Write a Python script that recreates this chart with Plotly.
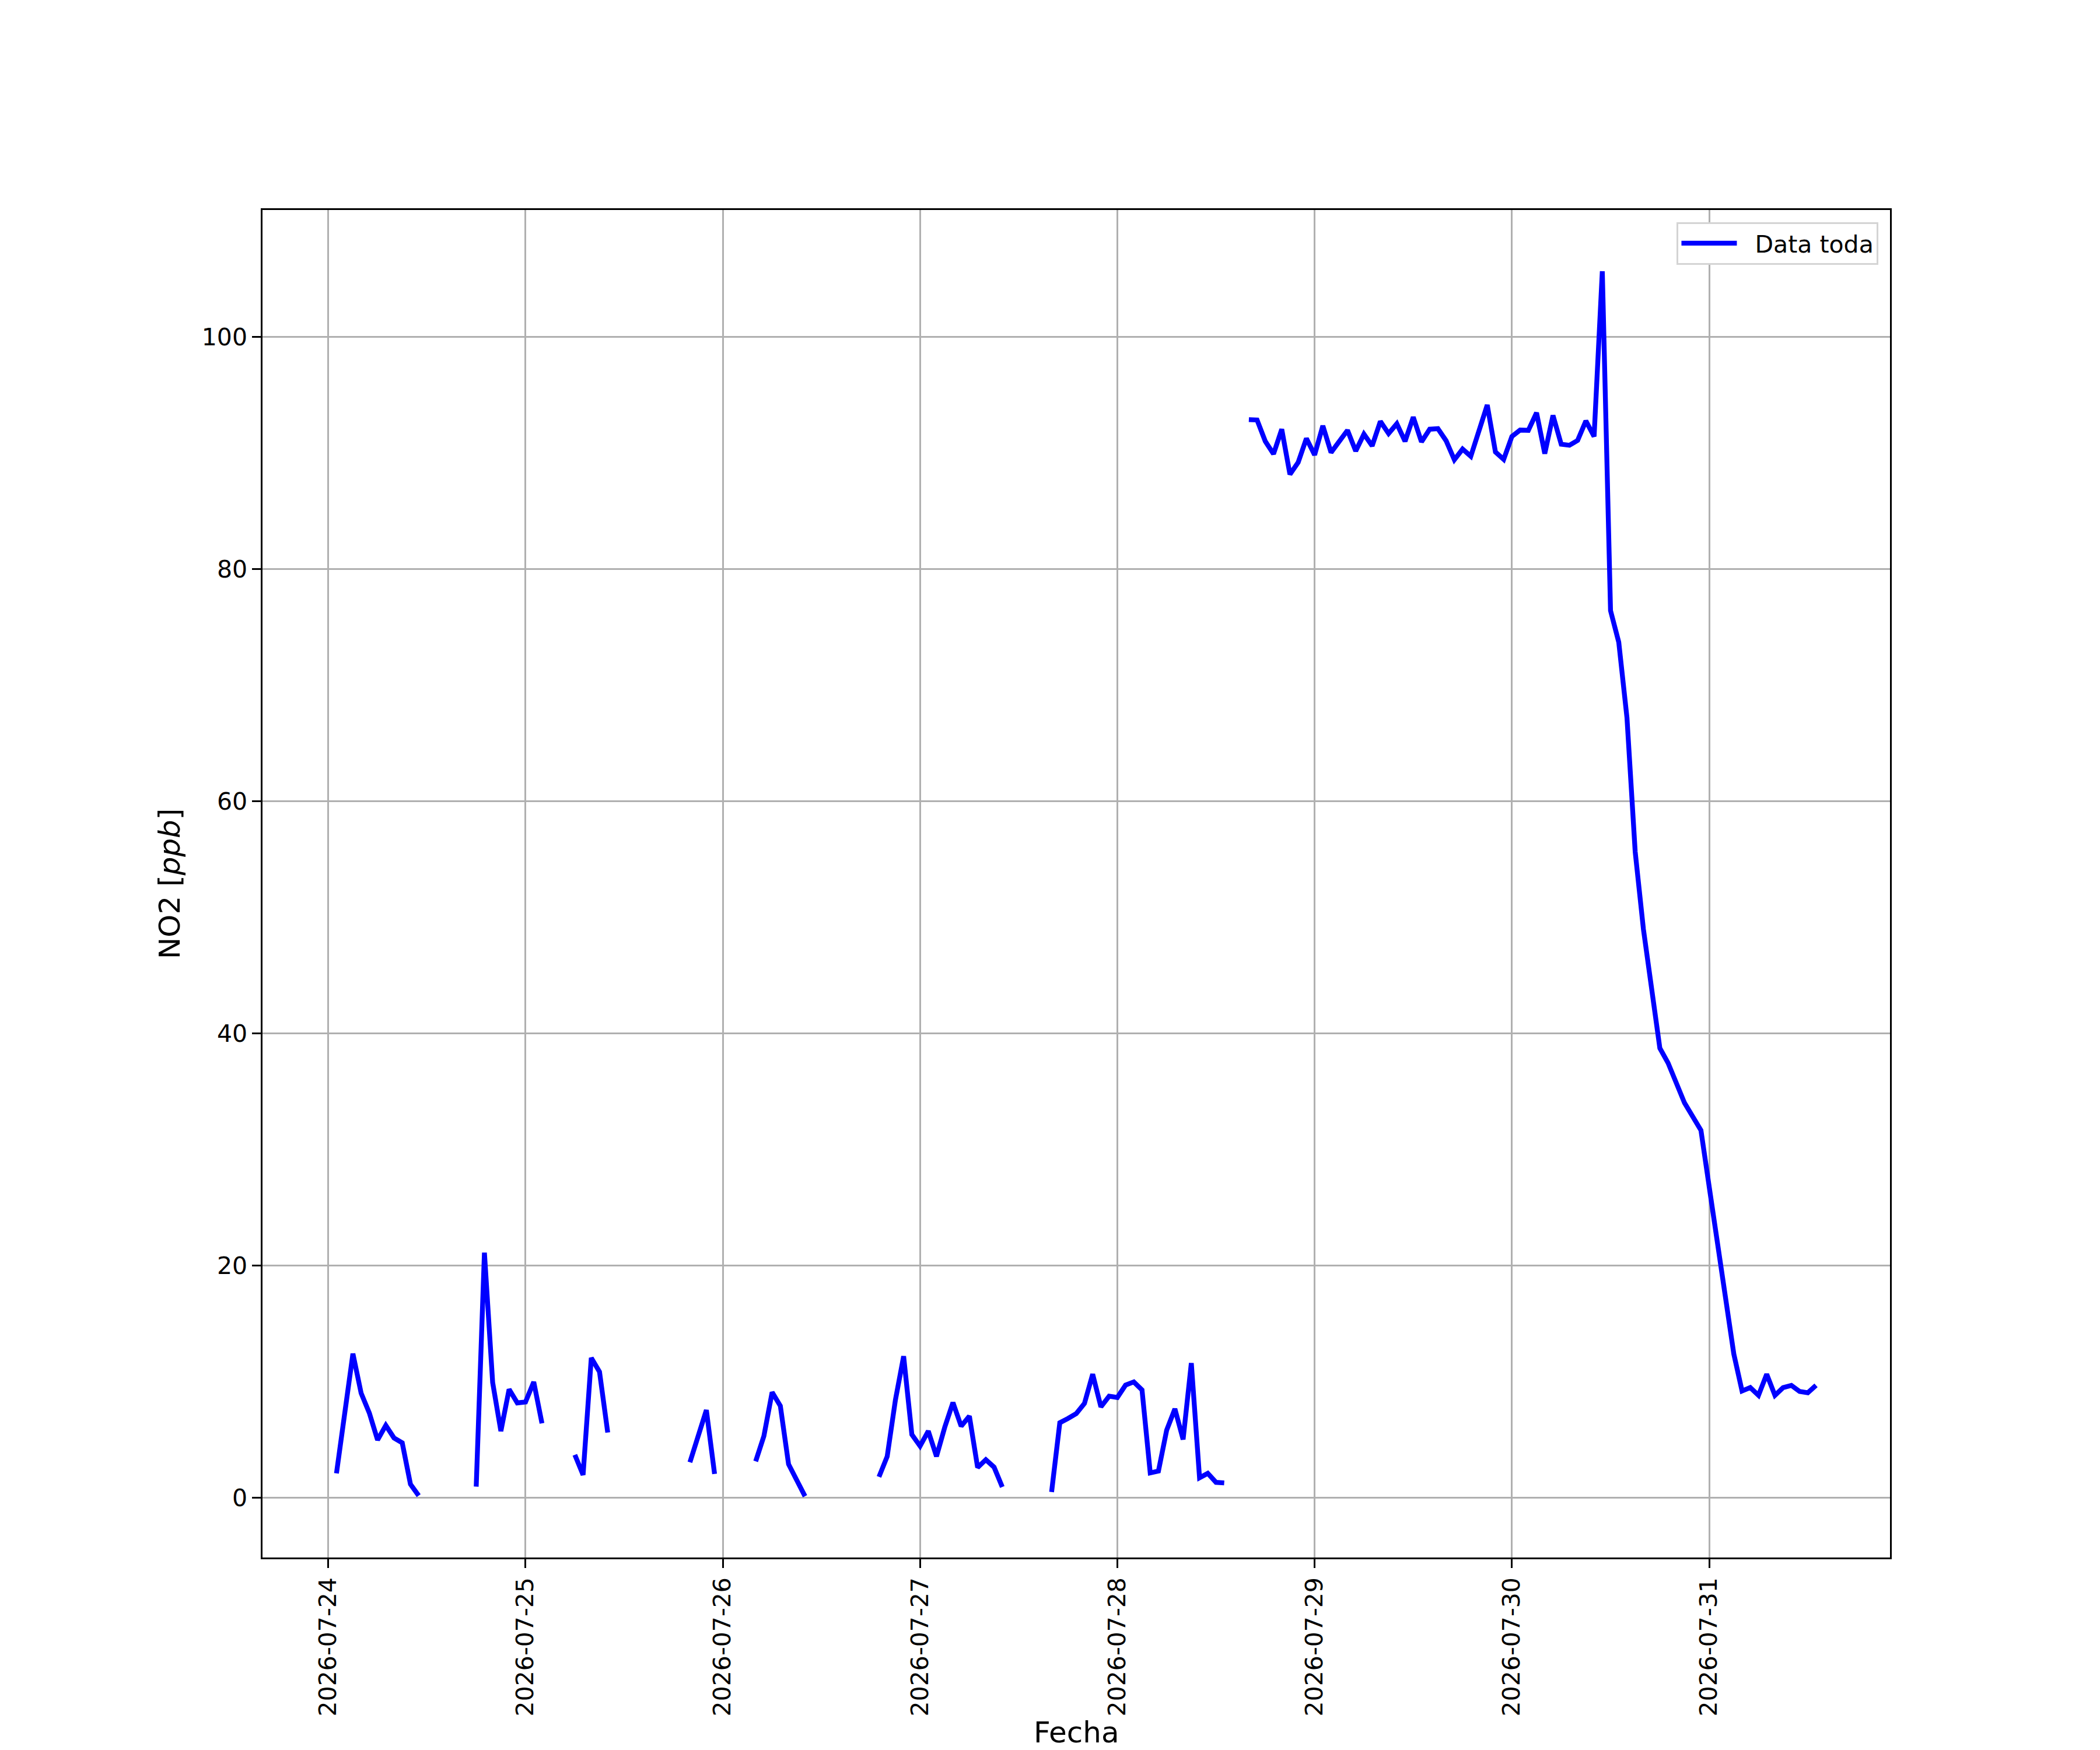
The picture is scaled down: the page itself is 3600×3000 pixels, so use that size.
import pandas as pd
import plotly.graph_objects as go

# NO2 horario (ppb), una lista por día (horas 0..23); None = sin dato
no2_24jul = [None, 2.09, 7.2, 12.4, 9.0, 7.29, 4.97, 6.23, 5.14, 4.72, 1.16, 0.17,
             None, None, None, None, None, None, 0.95, 21.1, 9.92, 5.73, 9.33, 8.16]
no2_25jul = [8.24, 9.97, 6.4, None, None, None, 3.69, 1.96, 12.04, 10.84, 5.61, None,
             None, None, None, None, None, None, None, None, 3.05, 5.14, 7.54, 2.04]
no2_26jul = [None, None, None, None, 3.13, 5.31, 9.08, 7.9, 2.88, 1.5, 0.12, None,
             None, None, None, None, None, None, None, 1.79, 3.55, 8.41, 12.18, 5.44]
no2_27jul = [4.44, 5.73, 3.55, 6.06, 8.19, 6.15, 7.02, 2.6, 3.27, 2.63, 0.92, None,
             None, None, None, None, 0.49, 6.45, 6.82, 7.24, 8.12, 10.64, 7.82, 8.74]
no2_28jul = [8.63, 9.7, 9.97, 9.28, 2.13, 2.29, 5.81, 7.65, 5.01, 11.59, 1.71, 2.09,
             1.32, 1.27, None, None, 92.86, 92.83, 90.99, 89.9, 92.03, 88.14, 89.18, 91.24]
no2_29jul = [89.82, 92.33, 90.03, 91.0, 91.94, 90.15, 91.61, 90.6, 92.71, 91.66, 92.5, 90.99,
             93.08, 90.94, 92.03, 92.08, 91.04, 89.4, 90.32, 89.7, 91.9, 94.12, 90.07, 89.43]
no2_30jul = [91.41, 91.96, 91.94, 93.45, 89.93, 93.22, 90.74, 90.65, 91.07, 92.75, 91.41, 105.64,
             76.41, 73.69, 67.18, 55.64, 48.97, 43.5, 38.72, 37.44, 35.74, 34.0, 32.82, 31.64]
no2_31jul = [26.8, 21.8, 16.85, 12.37, 9.19, 9.48, 8.81, 10.63, 8.81, 9.48, 9.67, 9.15,
             9.04, 9.67]

valores = (no2_24jul + no2_25jul + no2_26jul + no2_27jul +
           no2_28jul + no2_29jul + no2_30jul + no2_31jul)
fechas = pd.date_range("2026-07-24 00:00", periods=len(valores), freq="h")

df = pd.DataFrame({"fecha": fechas, "no2": valores})
validos = df.dropna()

# márgenes como matplotlib (5 %)
t0, t1 = validos["fecha"].min(), validos["fecha"].max()
dt = (t1 - t0) * 0.05
vmin, vmax = validos["no2"].min(), validos["no2"].max()
dv = (vmax - vmin) * 0.05

fig = go.Figure()
fig.add_trace(go.Scatter(
    x=df["fecha"],
    y=df["no2"],
    mode="lines",
    name="\u00a0\u00a0Data toda",
    line=dict(color="#0000ff", width=8.3),
    connectgaps=False
))

eje = dict(
    showgrid=True,
    gridcolor="#b0b0b0",
    gridwidth=3.3,
    showline=True,
    linecolor="black",
    linewidth=3.3,
    mirror=True,
    ticks="outside",
    ticklen=14.6,
    tickwidth=3.3,
    tickcolor="black",
    tickfont=dict(size=41, color="black"),
    zeroline=False,
    automargin=False
)

fig.update_layout(
    width=3600,
    height=3000,
    paper_bgcolor="white",
    plot_bgcolor="white",
    font=dict(family="DejaVu Sans", size=42, color="black"),
    margin=dict(l=450, r=360, t=360, b=330, autoexpand=False),
    xaxis=dict(
        eje,
        type="date",
        range=[t0 - dt, t1 + dt],
        tick0="2026-07-24",
        dtick=86400000,
        tickformat="%Y-%m-%d",
        tickangle=-90
    ),
    yaxis=dict(
        eje,
        range=[vmin - dv, vmax + dv],
        tickvals=[0, 20, 40, 60, 80, 100],
        title=dict(text="NO2 [<i>ppb</i>]", font=dict(size=50), standoff=22)
    ),
    legend=dict(
        x=0.993, y=0.991, xanchor="right", yanchor="top",
        bgcolor="white",
        bordercolor="#d4d4d4",
        borderwidth=3,
        font=dict(size=41),
        itemwidth=95
    ),
    showlegend=True
)

# título del eje x como anotación para fijar su posición
fig.add_annotation(
    text="Fecha",
    xref="paper", yref="paper",
    x=0.5, y=-0.130,
    xanchor="center", yanchor="middle",
    showarrow=False,
    font=dict(size=50, color="black")
)

fig.write_html("out.html", config={"displayModeBar": False},
               post_script="document.body.style.margin='0px';")
